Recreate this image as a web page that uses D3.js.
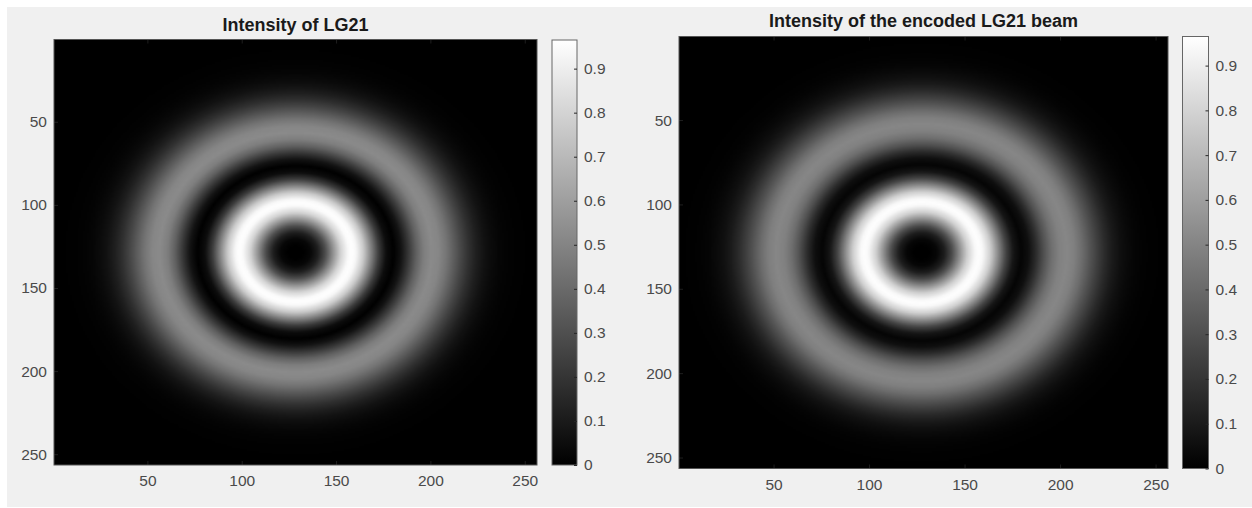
<!DOCTYPE html>
<html>
<head>
<meta charset="utf-8">
<script src="https://cdn.jsdelivr.net/npm/d3@7/dist/d3.min.js"></script>
<style>
  html, body { margin: 0; padding: 0; background: #ffffff; }
  svg { display: block; font-family: "Liberation Sans", Arial, Helvetica, sans-serif; }
</style>
</head>
<body>
<svg id="fig" width="1252" height="508"></svg>
<script>
// Grid size of each intensity image (pixels per side)
const gridSize = 256;

// Axis tick values shared by both images
const axisTicks = [50, 100, 150, 200, 250];
// Colour bar ticks
const colorbarTicks = [0, 0.1, 0.2, 0.3, 0.4, 0.5, 0.6, 0.7, 0.8, 0.9];

// Radial intensity profile of the LG21 beam (radius in pixels -> intensity)
const lgRadius    = [0, 4, 8, 12, 16, 20, 24, 28, 30, 32, 36, 40, 44, 48, 52, 56, 60, 64, 68, 72, 76, 80, 84, 88, 92, 96, 100, 104, 108, 112, 116, 120, 124, 128, 136, 200];
const lgIntensity = [0, 0.002, 0.028, 0.119, 0.303, 0.556, 0.802, 0.949, 0.963, 0.936, 0.763, 0.495, 0.228, 0.049, 0.001, 0.073, 0.216, 0.368, 0.479, 0.525, 0.507, 0.442, 0.352, 0.260, 0.179, 0.115, 0.069, 0.040, 0.022, 0.011, 0.006, 0.003, 0.001, 0.0005, 0, 0];
const lgCenter = [128.5, 128.5];
const lgMax = 0.965;

// Radial intensity profile of the encoded LG21 beam
const encRadius    = [0, 4, 8, 12, 16, 20, 24, 28, 30, 32, 36, 40, 44, 48, 52, 56, 60, 64, 68, 72, 76, 80, 84, 88, 92, 96, 100, 104, 108, 112, 116, 120, 124, 128, 136, 200];
const encIntensity = [0, 0.002, 0.026, 0.112, 0.292, 0.542, 0.790, 0.942, 0.962, 0.940, 0.780, 0.520, 0.262, 0.082, 0.018, 0.058, 0.170, 0.308, 0.420, 0.488, 0.510, 0.482, 0.412, 0.322, 0.238, 0.160, 0.100, 0.060, 0.035, 0.018, 0.009, 0.004, 0.002, 0.001, 0, 0];
const encCenter = [127.5, 128.5];
const encMax = 0.965;

const panels = [
  { title: "Intensity of LG21", radius: lgRadius, intensity: lgIntensity, center: lgCenter, cmax: lgMax,
    img: { x0: 54, x1: 537, y0: 39.5, y1: 465 }, cb: { x0: 552, x1: 577, y0: 40, y1: 465 }, titleY: 30.5 },
  { title: "Intensity of the encoded LG21 beam", radius: encRadius, intensity: encIntensity, center: encCenter, cmax: encMax,
    img: { x0: 679, x1: 1168, y0: 36.5, y1: 468.5 }, cb: { x0: 1182.5, x1: 1208.5, y0: 36.5, y1: 468.5 }, titleY: 26.5 }
];

const svg = d3.select("#fig");

// Figure background
svg.append("rect").attr("x", 7).attr("y", 7).attr("width", 1245).attr("height", 500).attr("fill", "#f0f0f0");

const tickColor = "#262626";
const labelColor = "#4a4a4a";
const labelSize = 15.5;

panels.forEach((p, k) => {
  const x = d3.scaleLinear().domain([0.5, gridSize + 0.5]).range([p.img.x0, p.img.x1]);
  const y = d3.scaleLinear().domain([0.5, gridSize + 0.5]).range([p.img.y0, p.img.y1]);
  const profile = d3.scaleLinear().domain(p.radius).range(p.intensity).clamp(true);
  const gray = d3.scaleLinear().domain([0, p.cmax]).range([0, 255]).clamp(true);

  // Rasterise the intensity field on a canvas, one cell per grid pixel
  const canvas = document.createElement("canvas");
  canvas.width = gridSize; canvas.height = gridSize;
  const ctx = canvas.getContext("2d");
  const im = ctx.createImageData(gridSize, gridSize);
  for (let j = 1; j <= gridSize; j++) {
    for (let i = 1; i <= gridSize; i++) {
      const r = Math.hypot(i - p.center[0], j - p.center[1]);
      const g = Math.round(gray(profile(r)));
      const idx = ((j - 1) * gridSize + (i - 1)) * 4;
      im.data[idx] = g; im.data[idx + 1] = g; im.data[idx + 2] = g; im.data[idx + 3] = 255;
    }
  }
  ctx.putImageData(im, 0, 0);

  const g = svg.append("g");
  g.append("image")
    .attr("href", canvas.toDataURL())
    .attr("x", x(0.5)).attr("y", y(0.5))
    .attr("width", x(gridSize + 0.5) - x(0.5))
    .attr("height", y(gridSize + 0.5) - y(0.5))
    .attr("preserveAspectRatio", "none");

  // Axes: ticks point inward, labels left and bottom
  const xAxis = g.append("g").attr("transform", `translate(0,${p.img.y1})`)
    .call(d3.axisBottom(x).tickValues(axisTicks).tickSizeInner(-4).tickSizeOuter(0).tickPadding(10));
  const yAxis = g.append("g").attr("transform", `translate(${p.img.x0},0)`)
    .call(d3.axisLeft(y).tickValues(axisTicks).tickSizeInner(-4).tickSizeOuter(0).tickPadding(7));
  [xAxis, yAxis].forEach(a => {
    a.select(".domain").remove();
    a.selectAll(".tick line").attr("stroke", tickColor).attr("stroke-width", 0.8);
    a.selectAll(".tick text").attr("fill", labelColor).attr("font-size", labelSize)
      .attr("font-family", "'Liberation Sans', Arial, sans-serif");
  });
  // Top ticks
  g.append("g").attr("transform", `translate(0,${p.img.y0})`)
    .call(d3.axisTop(x).tickValues(axisTicks).tickSizeInner(-4).tickSizeOuter(0).tickFormat(""))
    .call(s => { s.select(".domain").remove(); s.selectAll(".tick line").attr("stroke", tickColor).attr("stroke-width", 0.8); });

  // Axes box
  g.append("rect")
    .attr("x", p.img.x0).attr("y", p.img.y0)
    .attr("width", p.img.x1 - p.img.x0).attr("height", p.img.y1 - p.img.y0)
    .attr("fill", "none").attr("stroke", "#555").attr("stroke-width", 1);

  // Title
  g.append("text")
    .attr("x", (p.img.x0 + p.img.x1) / 2).attr("y", p.titleY)
    .attr("text-anchor", "middle").attr("font-weight", "bold").attr("font-size", 18)
    .attr("fill", "#1a1a1a")
    .text(p.title);

  // Colour bar
  const cy = d3.scaleLinear().domain([0, p.cmax]).range([p.cb.y1, p.cb.y0]);
  const gradId = "grad" + k;
  const grad = svg.append("defs").append("linearGradient").attr("id", gradId)
    .attr("x1", 0).attr("y1", 1).attr("x2", 0).attr("y2", 0);
  grad.append("stop").attr("offset", 0).attr("stop-color", "#000");
  grad.append("stop").attr("offset", 1).attr("stop-color", "#fff");
  g.append("rect")
    .attr("x", p.cb.x0).attr("y", p.cb.y0)
    .attr("width", p.cb.x1 - p.cb.x0).attr("height", p.cb.y1 - p.cb.y0)
    .attr("fill", `url(#${gradId})`).attr("stroke", "#666").attr("stroke-width", 1);
  const cAxis = g.append("g").attr("transform", `translate(${p.cb.x1},0)`)
    .call(d3.axisRight(cy).tickValues(colorbarTicks).tickSizeInner(-3).tickSizeOuter(0).tickPadding(7)
      .tickFormat(d => d === 0 ? "0" : d3.format(".1f")(d)));
  cAxis.select(".domain").remove();
  cAxis.selectAll(".tick line").attr("stroke", tickColor).attr("stroke-width", 1);
  cAxis.selectAll(".tick text").attr("fill", labelColor).attr("font-size", labelSize)
    .attr("font-family", "'Liberation Sans', Arial, sans-serif");
});
</script>
</body>
</html>
